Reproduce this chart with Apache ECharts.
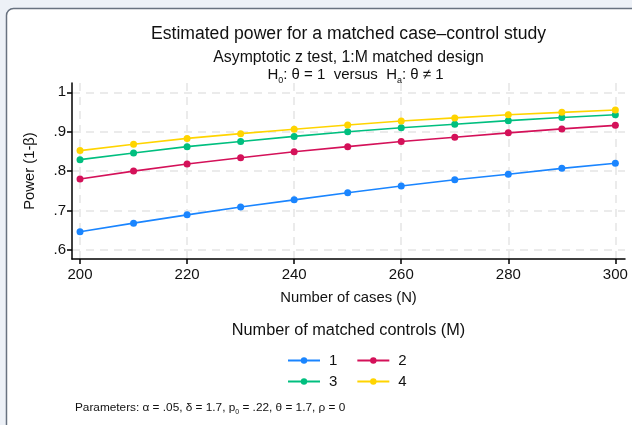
<!DOCTYPE html>
<html><head><meta charset="utf-8">
<script src="https://cdn.jsdelivr.net/npm/echarts@6/dist/echarts.min.js"></script>
<style>html,body{margin:0;padding:0;background:#edf1f7;}#c{width:632px;height:425px;}</style>
</head><body><div id="c"></div>
<script>
const cases = [200,210,220,230,240,250,260,270,280,290,300];
const m1 = [0.646,0.668,0.689,0.709,0.727,0.745,0.762,0.778,0.792,0.807,0.820];
const m2 = [0.780,0.800,0.818,0.834,0.849,0.862,0.875,0.886,0.897,0.907,0.916];
const m3 = [0.829,0.846,0.862,0.875,0.888,0.900,0.910,0.919,0.928,0.936,0.943];
const m4 = [0.852,0.868,0.883,0.895,0.906,0.917,0.927,0.935,0.943,0.949,0.955];
const seriesNames = ['1','2','3','4'];
const xTicks = [200,220,240,260,280,300];
const yTicks = [0.6,0.7,0.8,0.9,1];
const colors = ['#1a85ff','#d41159','#00bf7f','#ffd400'];
const values = [m1,m2,m3,m4];
const FONT = 'Liberation Sans, Arial, sans-serif';

const chart = echarts.init(document.getElementById('c'));
const pair = v => cases.map((x,i)=>[x,v[i]]);
chart.setOption({
  backgroundColor: 'transparent',
  textStyle:{fontFamily:FONT},
  animation:false,
  graphic:[
    {type:'rect', z:-10, shape:{x:6.5,y:8.5,width:700,height:500,r:7}, style:{fill:'#ffffff',stroke:'#687280',lineWidth:1.5}},
    {type:'text', x:348.5, y:34, style:{text:'Estimated power for a matched case\u2013control study', font:'17.6px '+FONT, fill:'#111', textAlign:'center', textVerticalAlign:'middle'}},
    {type:'text', x:348.5, y:58, style:{text:'Asymptotic z test, 1:M matched design', font:'15.8px '+FONT, fill:'#111', textAlign:'center', textVerticalAlign:'middle'}},
    {type:'text', x:355.5, y:75, style:{
      text:'H{s|0}: \u03b8 = 1  versus  H{s|a}: \u03b8 \u2260 1',
      font:'15px '+FONT, fill:'#111', textAlign:'center', textVerticalAlign:'middle',
      rich:{s:{fontSize:9, fontFamily:FONT, fill:'#111', verticalAlign:'bottom', padding:[12,0,0,0]}}
    }},
    {type:'text', x:348.5, y:331, style:{text:'Number of matched controls (M)', font:'16.3px '+FONT, fill:'#111', textAlign:'center', textVerticalAlign:'middle'}},
    {type:'text', x:75, y:408, style:{
      text:'Parameters: \u03b1 = .05, \u03b4 = 1.7, p{s|0} = .22, \u03b8 = 1.7, \u03c1 = 0',
      font:'11.8px '+FONT, fill:'#111', textVerticalAlign:'middle',
      rich:{s:{fontSize:7, fontFamily:FONT, fill:'#111', verticalAlign:'bottom', padding:[9,0,0,0]}}
    }}
  ],
  legend:[
    {data:['1','2'], top:353, left:287, padding:0, itemWidth:32, itemHeight:8, itemGap:19,
     textStyle:{fontSize:15, color:'#111', fontFamily:FONT, padding:[0,0,0,4]}},
    {data:['3','4'], top:374, left:287, padding:0, itemWidth:32, itemHeight:8, itemGap:19,
     textStyle:{fontSize:15, color:'#111', fontFamily:FONT, padding:[0,0,0,4]}}
  ],
  grid:{left:72, right:7, top:83, bottom:166, containLabel:false},
  xAxis:{
    type:'value', min:198.5, max:301.8,
    name:'Number of cases (N)', nameLocation:'middle', nameGap:31,
    nameTextStyle:{fontSize:14.8, color:'#111', fontFamily:FONT},
    axisLine:{lineStyle:{color:'#000', width:1.5}},
    axisTick:{customValues:xTicks, length:5, lineStyle:{color:'#000', width:1.5}},
    axisLabel:{customValues:xTicks, fontSize:15, color:'#111', margin:8, fontFamily:FONT},
    splitLine:{show:true, lineStyle:{color:'#ebebeb', width:2, type:[8,6]}}
  },
  yAxis:{
    type:'value', min:0.577, max:1.0235,
    name:'Power (1-\u03b2)', nameLocation:'middle', nameGap:35,
    nameTextStyle:{fontSize:14.8, color:'#111', fontFamily:FONT},
    axisLine:{show:true, lineStyle:{color:'#000', width:1.5}},
    axisTick:{show:true, customValues:yTicks, length:5, lineStyle:{color:'#000', width:1.5}},
    axisLabel:{customValues:yTicks, fontSize:15, color:'#111', margin:6, fontFamily:FONT,
      formatter:v=>{const r=Math.round(v*10)/10; return r===1?'1':String(r).replace(/^0/,'');}},
    splitLine:{show:true, lineStyle:{color:'#ebebeb', width:2, type:[8,6]}}
  },
  series: seriesNames.map((n,i)=>({
    name:n, type:'line', data:pair(values[i]), color:colors[i],
    symbol:'circle', symbolSize:7, showSymbol:true,
    lineStyle:{width:1.6, color:colors[i]}, itemStyle:{color:colors[i]}
  }))
});
</script></body></html>
